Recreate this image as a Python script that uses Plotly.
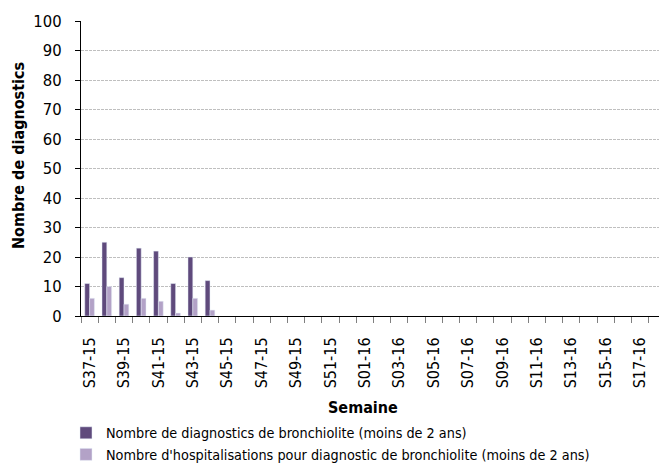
import plotly.graph_objects as go

FONT = "Liberation Sans Narrow, DejaVu Sans Condensed, Arial Narrow, sans-serif"

weeks = ["S37-15", "S38-15", "S39-15", "S40-15", "S41-15", "S42-15", "S43-15", "S44-15",
         "S45-15", "S46-15", "S47-15", "S48-15", "S49-15", "S50-15", "S51-15", "S52-15",
         "S01-16", "S02-16", "S03-16", "S04-16", "S05-16", "S06-16", "S07-16", "S08-16",
         "S09-16", "S10-16", "S11-16", "S12-16", "S13-16", "S14-16", "S15-16", "S16-16",
         "S17-16", "S18-16"]
diagnostics = [11, 25, 13, 23, 22, 11, 20, 12]
hospitalisations = [6, 10, 4, 6, 5, 1, 6, 2]

fig = go.Figure()
fig.add_trace(go.Bar(x=weeks[:len(diagnostics)], y=diagnostics, marker_color="#5f4a7c",
                     name="Nombre de diagnostics de bronchiolite (moins de 2 ans)"))
fig.add_trace(go.Bar(x=weeks[:len(hospitalisations)], y=hospitalisations, marker_color="#b3a2c7",
                     name="Nombre d'hospitalisations pour diagnostic de bronchiolite (moins de 2 ans)"))

ticktext = [w if i % 2 == 0 else "" for i, w in enumerate(weeks)]

# page body has an 8px margin, so the figure is laid out 8px up/left of the target
L, T, B = 73, 13, 159
PW = 667 - L
PH = 467 - T - B

fig.update_xaxes(type="category", categoryorder="array", categoryarray=weeks,
                 range=[-0.5, -0.5 + PW / 17.2], tickvals=weeks, ticktext=ticktext, tickangle=-90,
                 tickson="boundaries", ticks="outside", ticklen=6, tickcolor="#808080",
                 ticklabelstandoff=14,
                 showline=True, linecolor="black", linewidth=1, showgrid=False, automargin=False,
                 tickfont=dict(size=16, color="black", family=FONT))
fig.update_yaxes(range=[0, 100], dtick=10, showline=True, linecolor="black", linewidth=1,
                 ticks="outside", ticklen=5, tickcolor="black", automargin=False,
                 ticklabelstandoff=10,
                 showgrid=True, gridcolor="#bfbfbf", griddash="3px,1px", gridwidth=1,
                 zeroline=False, tickfont=dict(size=16.5, color="black", family=FONT))

fig.add_annotation(text="<b>Nombre de diagnostics</b>", textangle=-90, xref="paper", yref="paper",
                   x=(10 - L) / PW, y=(T + PH - 148) / PH, xanchor="center", yanchor="middle",
                   showarrow=False, font=dict(size=16, color="black", family=FONT))
fig.add_annotation(text="<b>Semaine</b>", xref="paper", yref="paper",
                   x=(355 - L) / PW, y=(T + PH - 399) / PH, xanchor="center", yanchor="middle",
                   showarrow=False, font=dict(size=16, color="black", family=FONT))

fig.update_layout(
    width=667, height=467,
    margin=dict(l=L, r=0, t=T, b=B, autoexpand=False),
    barmode="group", bargap=0.44, bargroupgap=0,
    plot_bgcolor="white", paper_bgcolor="white",
    font=dict(family=FONT, size=14.3, color="black"),
    showlegend=True,
    legend=dict(x=(58 - L) / PW, y=(467 - 409) / 467, yref="container", xanchor="left", yanchor="top",
                orientation="v", font=dict(size=14.3, family=FONT), itemwidth=30, tracegroupgap=0,
                bgcolor="rgba(0,0,0,0)"),
)

fig.write_html("out.html")
